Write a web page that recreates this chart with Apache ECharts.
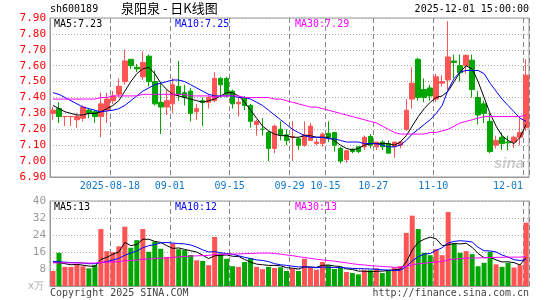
<!DOCTYPE html>
<html>
<head>
<meta charset="utf-8">
<script src="https://cdn.jsdelivr.net/npm/echarts@6/dist/echarts.min.js"></script>
<style>
  html, body { margin: 0; padding: 0; background: #fff; }
  #main { width: 545px; height: 300px; }
</style>
</head>
<body>
<div id="main"></div>
<script>
// trading days shown on the chart
var dates = ['2025-08-04','2025-08-05','2025-08-06','2025-08-07','2025-08-08','2025-08-11','2025-08-12','2025-08-13','2025-08-14','2025-08-15',
  '2025-08-18','2025-08-19','2025-08-20','2025-08-21','2025-08-22','2025-08-25','2025-08-26','2025-08-27','2025-08-28','2025-08-29',
  '2025-09-01','2025-09-02','2025-09-03','2025-09-04','2025-09-05','2025-09-08','2025-09-09','2025-09-10','2025-09-11','2025-09-12',
  '2025-09-15','2025-09-16','2025-09-17','2025-09-18','2025-09-19','2025-09-22','2025-09-23','2025-09-24','2025-09-25','2025-09-26',
  '2025-09-29','2025-09-30','2025-10-09','2025-10-10','2025-10-13','2025-10-14','2025-10-15','2025-10-16','2025-10-17','2025-10-20',
  '2025-10-21','2025-10-22','2025-10-23','2025-10-24','2025-10-27','2025-10-28','2025-10-29','2025-10-30','2025-10-31','2025-11-03',
  '2025-11-04','2025-11-05','2025-11-06','2025-11-07','2025-11-10','2025-11-11','2025-11-12','2025-11-13','2025-11-14','2025-11-17',
  '2025-11-18','2025-11-19','2025-11-20','2025-11-21','2025-11-24','2025-11-25','2025-11-26','2025-11-27','2025-11-28','2025-12-01'];

// dates that get a label + dashed line
var labelDates = ['2025-08-18','2025-09-01','2025-09-15','2025-09-29','2025-10-15','2025-10-27','2025-11-10','2025-12-01'];

var openP  = [7.30,7.33,7.28,7.28,7.26,7.27,7.32,7.31,7.28,7.32, 7.38,7.42,7.50,7.64,7.59,7.53,7.66,7.50,7.37,7.34,
              7.36,7.47,7.43,7.44,7.31,7.38,7.37,7.38,7.52,7.52, 7.44,7.36,7.40,7.35,7.23,7.20,7.18,7.08,7.20,7.165,
              7.15,7.14,7.10,7.13,7.11,7.11,7.175,7.18,7.08,7.01, 7.075,7.09,7.09,7.155,7.09,7.12,7.11,7.09,7.10,7.20,
              7.39,7.64,7.45,7.46,7.39,7.49,7.51,7.63,7.60,7.60, 7.635,7.40,7.36,7.25,7.10,7.15,7.12,7.12,7.15,7.21];
var closeP = [7.32,7.28,7.28,7.28,7.28,7.34,7.30,7.28,7.36,7.39, 7.41,7.47,7.63,7.60,7.58,7.62,7.50,7.36,7.34,7.38,
              7.48,7.42,7.40,7.30,7.33,7.37,7.40,7.52,7.48,7.42, 7.36,7.37,7.35,7.25,7.25,7.20,7.08,7.22,7.165,7.13,
              7.155,7.10,7.165,7.22,7.12,7.17,7.15,7.10,7.00,7.065, 7.06,7.06,7.15,7.10,7.12,7.09,7.05,7.12,7.12,7.32,
              7.49,7.40,7.40,7.41,7.53,7.50,7.655,7.62,7.555,7.665, 7.45,7.29,7.30,7.06,7.13,7.11,7.115,7.15,7.18,7.54];
var lowP   = [7.26,7.24,7.22,7.22,7.21,7.25,7.27,7.24,7.15,7.24, 7.36,7.40,7.48,7.58,7.56,7.51,7.47,7.35,7.17,7.29,
              7.30,7.38,7.35,7.25,7.26,7.22,7.33,7.37,7.40,7.40, 7.33,7.28,7.32,7.21,7.16,7.16,7.00,7.05,7.13,7.10,
              7.00,7.07,7.09,7.13,7.10,7.09,7.12,7.06,6.985,6.99, 7.05,7.05,7.07,7.08,7.07,7.07,7.05,7.02,7.08,7.19,
              7.33,7.38,7.37,7.38,7.37,7.47,7.45,7.52,7.50,7.55, 7.40,7.23,7.24,7.05,7.08,7.07,7.07,7.08,7.10,7.19];
var highP  = [7.34,7.37,7.28,7.28,7.30,7.35,7.33,7.32,7.43,7.43, 7.44,7.52,7.70,7.64,7.61,7.69,7.67,7.57,7.49,7.45,
              7.52,7.63,7.48,7.46,7.36,7.40,7.42,7.56,7.53,7.53, 7.45,7.40,7.41,7.36,7.26,7.27,7.19,7.23,7.25,7.20,
              7.25,7.15,7.25,7.24,7.14,7.18,7.25,7.18,7.09,7.07, 7.08,7.09,7.16,7.17,7.12,7.13,7.13,7.12,7.12,7.39,
              7.59,7.65,7.52,7.48,7.55,7.54,7.88,7.67,7.67,7.67, 7.67,7.44,7.38,7.30,7.16,7.18,7.16,7.16,7.27,7.64];

var ma5  = [7.35,7.33,7.31,7.30,7.29,7.29,7.30,7.30,7.31,7.33, 7.35,7.38,7.44,7.50,7.55,7.58,7.59,7.55,7.49,7.45,
            7.42,7.41,7.40,7.39,7.38,7.37,7.38,7.39,7.41,7.43, 7.43,7.41,7.37,7.32,7.27,7.22,7.19,7.17,7.16,7.16,
            7.15,7.15,7.16,7.16,7.15,7.15,7.15,7.13,7.10,7.08, 7.07,7.08,7.10,7.11,7.11,7.11,7.11,7.10,7.12,7.16,
            7.22,7.28,7.33,7.37,7.40,7.41,7.44,7.50,7.56,7.60, 7.58,7.50,7.40,7.30,7.22,7.16,7.13,7.11,7.15,7.23];
var ma10 = [7.43,7.42,7.40,7.38,7.36,7.34,7.33,7.32,7.31,7.315, 7.32,7.33,7.35,7.38,7.41,7.44,7.46,7.48,7.49,7.50,
            7.51,7.51,7.50,7.48,7.46,7.44,7.42,7.41,7.41,7.41, 7.41,7.40,7.40,7.39,7.37,7.35,7.32,7.29,7.26,7.23,
            7.20,7.18,7.16,7.15,7.15,7.15,7.14,7.14,7.13,7.12, 7.12,7.12,7.11,7.11,7.11,7.10,7.09,7.09,7.10,7.13,
            7.17,7.20,7.23,7.26,7.30,7.35,7.45,7.52,7.56,7.57, 7.57,7.57,7.55,7.49,7.44,7.39,7.35,7.31,7.27,7.25];
var ma30 = [7.39,7.39,7.39,7.39,7.39,7.39,7.39,7.39,7.40,7.40, 7.41,7.41,7.41,7.41,7.41,7.42,7.42,7.42,7.42,7.42,
            7.42,7.42,7.42,7.41,7.41,7.41,7.41,7.40,7.41,7.41, 7.41,7.41,7.40,7.40,7.40,7.40,7.40,7.39,7.39,7.38,
            7.37,7.36,7.35,7.34,7.34,7.33,7.32,7.31,7.30,7.29, 7.28,7.27,7.26,7.25,7.24,7.22,7.20,7.18,7.17,7.17,
            7.17,7.17,7.17,7.18,7.18,7.19,7.20,7.22,7.24,7.25, 7.26,7.27,7.28,7.28,7.28,7.28,7.28,7.28,7.28,7.29];

// volume, 万手
var volume = [7.1,15.6,9.0,9.0,10.2,9.3,8.3,9.9,26.8,16.4, 15.9,18.7,27.9,18.0,21.6,26.8,16.1,20.9,17.5,13.7,
              20.0,17.3,16.9,14.6,12.1,11.8,9.8,23.1,15.3,12.8, 9.3,9.0,11.3,13.2,9.0,7.9,9.0,8.5,8.8,7.1,
              8.3,7.1,12.8,8.8,7.6,11.3,9.8,8.0,8.7,6.6, 6.1,5.5,7.4,7.4,8.3,6.1,7.4,8.7,9.3,25.0,
              33.1,26.8,15.6,14.5,17.3,14.5,34.8,20.0,15.6,16.4, 15.0,9.3,10.9,16.1,10.2,9.0,10.9,8.7,9.8,29.8];
var vma5  = [11.3,11,10.5,10,10.2,9.8,9.4,9.2,12.5,13.5, 15,16,20.5,19,19.5,22,22,21,20.5,19,
             17.7,17.9,17.2,16.6,16,14.5,12.9,14.2,14.4,14.6, 14,13.9,12.5,11.2,10.3,10,9.7,9.7,9.5,8.6,
             8.4,8.0,9.0,8.9,8.8,9.7,9.9,9.4,9.2,8.1, 7.8,7.0,7.0,6.7,6.9,7.0,7.3,7.6,7.9,11.3,
             16.9,20.6,22,23,22.2,19,19.4,20,19.8,20.1, 18.2,15.3,13.3,13.5,12.3,11.3,11.4,11,9.9,13.4];
var vma10 = [11.5,11.4,11.2,11,11,10.8,10.5,10.5,11,11.5, 12.2,13,14.5,15.5,16.5,18,19,19.5,20.3,20.5,
             20.2,20,19.8,19.3,18.3,17,16,16.2,15.6,15.3, 15,14.2,13.5,12.9,12.3,12,11.5,10.5,10,9.7,
             9.3,9,9,8.9,8.6,8.9,8.8,8.7,8.7,8.5, 8.3,8.2,8.1,8,7.9,7.6,7.5,7.3,7.4,9.1,
             11.8,13.8,15,15.3,16.8,18,20.2,21,21.3,21.1, 20.7,18.2,16.6,16.5,16,14.6,13.6,12.4,12,12.4];
var vma30 = [10.9,10.9,10.9,10.9,10.9,10.8,10.8,10.8,11.1,11.2, 11.3,11.5,11.9,12,12.2,12.6,12.7,12.9,13.1,13.2,
             13.5,13.7,13.9,14.1,14.2,14.3,14.4,14.8,14.9,15, 15,15.1,15.2,15.3,15.4,15.5,15.5,15.3,15,14.6,
             14.3,13.8,13.4,13.0,12.6,12.3,12,11.7,11.3,10.9, 10.5,10.1,9.9,9.6,9.4,9.2,9.0,8.8,8.8,9.3,
             9.9,10.5,10.7,11,11.3,11.5,12.3,12.6,12.9,13.1, 13.2,13.2,13.3,13.4,13.5,13.5,13.6,13.6,13.6,13.8];

var priceTicks = { min: 6.9, max: 7.9, step: 0.1 };
var volTicks = { min: 0, max: 40, step: 8 };

var UP = '#ff5454', DOWN = '#00a600';
var SEP = '#888888';
var MONO = '"DejaVu Sans Mono", "Liberation Mono", monospace';

var kData = dates.map(function (d, i) { return [openP[i], closeP[i], lowP[i], highP[i]]; });
var volData = volume.map(function (v, i) {
    return { value: v, itemStyle: { color: closeP[i] >= openP[i] ? UP : DOWN } };
});

function isLabelDay(idx) { return labelDates.indexOf(dates[idx]) >= 0; }

function catX(gridIndex, showLabel) {
    return {
        type: 'category', gridIndex: gridIndex, data: dates, boundaryGap: true,
        axisLine: { show: true, lineStyle: { color: '#999', width: 1 } },
        axisTick: { show: false },
        // dashed separators on the left edge of each labelled day
        splitLine: { show: true, interval: isLabelDay, lineStyle: { color: SEP, type: [5, 3], width: 1 } },
        axisLabel: showLabel ? {
            show: true, interval: isLabelDay, margin: 4,
            formatter: function (v) {
                if (v === '2025-12-01') return '{e|12-01}';
                if (v === '2025-08-18') return '{a|' + v + '}';
                return '{a|' + v.slice(5) + '}';
            },
            rich: {
                a: { color: '#1177cc', fontFamily: MONO, fontSize: 10, padding: [0, 6, 0, 0] },
                e: { color: '#1177cc', fontFamily: MONO, fontSize: 10, padding: [0, 36, 0, 0] }
            }
        } : { show: false }
    };
}

function lineS(name, data, color, xi, yi) {
    return {
        name: name, type: 'line', data: data, xAxisIndex: xi, yAxisIndex: yi,
        symbol: 'none', smooth: false, silent: true,
        lineStyle: { color: color, width: 1 }, z: 5
    };
}

function txt(x, y, s, color, font, align) {
    return { type: 'text', left: x, top: y, silent: true,
        style: { text: s, fill: color, font: font || ('10px ' + MONO), textAlign: align || 'left' } };
}

var chart = echarts.init(document.getElementById('main'), null, { renderer: 'canvas' });
chart.setOption({
    animation: false,
    backgroundColor: '#fff',
    grid: [
        { left: 50, top: 18, width: 479, height: 159, show: true, borderColor: '#999', borderWidth: 1, backgroundColor: 'transparent' },
        { left: 50, top: 201, width: 479, height: 85, show: true, borderColor: '#999', borderWidth: 1, backgroundColor: 'transparent' }
    ],
    xAxis: [catX(0, true), catX(1, false)],
    yAxis: [
        {
            type: 'value', gridIndex: 0, min: priceTicks.min, max: priceTicks.max, interval: priceTicks.step,
            axisLine: { show: true, lineStyle: { color: '#999' } }, axisTick: { show: false },
            axisLabel: { color: '#ff0000', fontFamily: MONO, fontSize: 11, margin: 4,
                formatter: function (v) { return v.toFixed(2); } },
            splitLine: { show: true, lineStyle: { color: '#aaa', type: [1, 2], width: 1 } }
        },
        {
            type: 'value', gridIndex: 1, min: volTicks.min, max: volTicks.max, interval: volTicks.step,
            axisLine: { show: true, lineStyle: { color: '#999' } }, axisTick: { show: false },
            axisLabel: { color: '#999', fontFamily: MONO, fontSize: 11, margin: 4, showMinLabel: false },
            splitLine: { show: true, lineStyle: { color: '#aaa', type: [1, 2], width: 1 } }
        }
    ],
    series: [
        {
            name: 'K', type: 'candlestick', data: kData, xAxisIndex: 0, yAxisIndex: 0,
            barWidth: 5, silent: true,
            itemStyle: { color: UP, color0: DOWN, borderColor: UP, borderColor0: DOWN, borderWidth: 1 }
        },
        lineS('MA5', ma5, '#000000', 0, 0),
        lineS('MA10', ma10, '#0000ff', 0, 0),
        lineS('MA30', ma30, '#ff00ff', 0, 0),
        { name: 'VOL', type: 'bar', data: volData, xAxisIndex: 1, yAxisIndex: 1, barWidth: 5, silent: true },
        lineS('VMA5', vma5, '#000000', 1, 1),
        lineS('VMA10', vma10, '#0000ff', 1, 1),
        lineS('VMA30', vma30, '#ff00ff', 1, 1)
    ],
    graphic: [
        txt(50, 4, 'sh600189', '#000'),
        txt(121, 2, '泉阳泉 - 日K线图', '#000', '13px "Noto Sans CJK SC", sans-serif'),
        { type: 'text', right: 16, top: 4, silent: true,
          style: { text: '2025-12-01 15:00:00', fill: '#000', font: '10px ' + MONO } },
        txt(54, 19, 'MA5:' + ma5[ma5.length - 1].toFixed(2), '#000'),
        txt(175, 19, 'MA10:' + ma10[ma10.length - 1].toFixed(2), '#0000ff'),
        txt(295, 19, 'MA30:' + ma30[ma30.length - 1].toFixed(2), '#ff00ff'),
        txt(54, 202, 'MA5:' + Math.floor(vma5[vma5.length - 1]), '#000'),
        txt(175, 202, 'MA10:' + Math.floor(vma10[vma10.length - 1]), '#0000ff'),
        txt(295, 202, 'MA30:' + Math.floor(vma30[vma30.length - 1]), '#ff00ff'),
        txt(28, 281, 'x万', '#aaa', '10px ' + MONO),
        txt(50, 288, 'Copyright 2025 SINA.COM', '#444'),
        { type: 'text', right: 16, top: 288, silent: true,
          style: { text: 'http://finance.sina.com.cn', fill: '#444', font: '10px ' + MONO } },
        txt(494, 156, 'sina', '#cccccc', 'italic bold 15px sans-serif')
    ]
});
</script>
</body>
</html>
